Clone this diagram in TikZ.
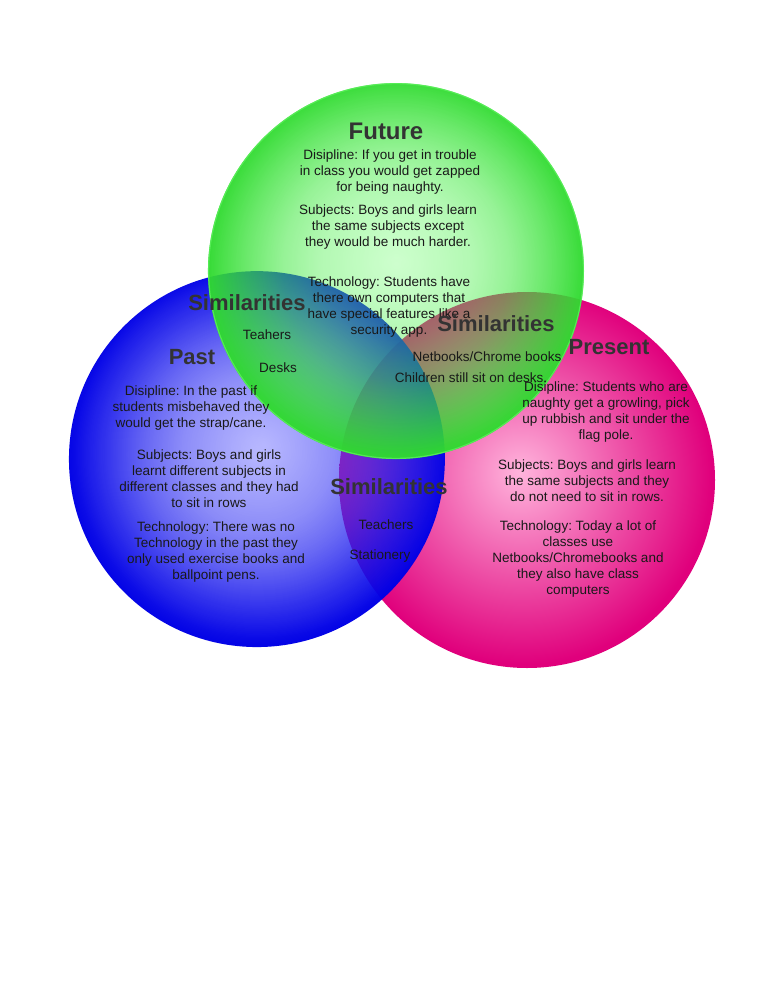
\documentclass[tikz,border=0pt]{standalone}
\usepackage{fontspec}
\setmainfont{Liberation Sans}
\usetikzlibrary{fadings}
\frenchspacing
\definecolor{gIn}{HTML}{5CFF5C}
\definecolor{gOut}{HTML}{30DA30}
\definecolor{gRim}{HTML}{5CF05C}
\definecolor{bIn}{HTML}{6464FF}
\definecolor{bOut}{HTML}{0000E6}
\definecolor{pIn}{HTML}{FFB4DC}
\definecolor{pOut}{HTML}{E0007C}
\definecolor{titlegray}{HTML}{333333}
\pgfdeclareradialshading{greenball}{\pgfpoint{0bp}{2bp}}{color(0bp)=(gIn); color(25bp)=(gOut); color(50bp)=(gOut)}
\pgfdeclareradialshading{blueball}{\pgfpoint{1bp}{2bp}}{color(0bp)=(bIn); color(25bp)=(bOut); color(50bp)=(bOut)}
\pgfdeclareradialshading{pinkball}{\pgfpoint{-1bp}{1bp}}{color(0bp)=(pIn); color(25bp)=(pOut); color(50bp)=(pOut)}
\pgfdeclareradialshading{gfadeshade}{\pgfpoint{0bp}{1bp}}{color(0bp)=(black!70); color(10bp)=(black!58); color(15bp)=(black!45); color(20bp)=(black!25); color(25bp)=(black!3); color(50bp)=(black!3)}
\pgfdeclareradialshading{bfadeshade}{\pgfpoint{0bp}{1bp}}{color(0bp)=(black!55); color(10bp)=(black!42); color(15bp)=(black!30); color(20bp)=(black!15); color(25bp)=(black!2); color(50bp)=(black!2)}
\pgfdeclarefading{greenfade}{\pgfuseshading{gfadeshade}}
\pgfdeclarefading{bluefade}{\pgfuseshading{bfadeshade}}
\tikzset{
  ttl/.style={font=\fontsize{22}{26}\selectfont\bfseries, text=titlegray, inner sep=0pt},
  body/.style={font=\fontsize{13.5}{16}\selectfont, align=center, text=black!90, inner sep=0pt},
}
\begin{document}
\begin{tikzpicture}[x=1pt,y=-1pt]
\useasboundingbox (0,0) rectangle (765,990);
\fill[white] (0,0) rectangle (765,990);
% circles
\shade[shading=pinkball] (527,480) circle (188);
\shade[shading=blueball, path fading=bluefade] (257,459) circle (188);
\shade[shading=greenball, path fading=greenfade] (396,271) circle (188);
\draw[gRim, line width=1.2pt, opacity=0.8] (396,271) circle (187.4);
% Future
\node[ttl, font=\fontsize{24}{28}\selectfont\bfseries] (future) at (386,131) {Future};
\node[body] (fdisc) at (390,172) {Disipline: If you get in trouble\\in class you would get zapped\\for being naughty.};
\node[body] (fsubj) at (388,227) {Subjects: Boys and girls learn\\the same subjects except\\they would be much harder.};
\node[body] (ftech) at (389,307) {Technology: Students have\\there own computers that\\have special features like a\\security app.};
% Past
\node[ttl] (past) at (192,357) {Past};
\node[body] (pdisc) at (191,408) {Disipline: In the past if\\students misbehaved they\\would get the strap/cane.};
\node[body] (psubj) at (209,479) {Subjects: Boys and girls\\learnt different subjects in\\different classes and they had\\to sit in rows};
\node[body] (ptech) at (216,552) {Technology: There was no\\Technology in the past they\\only used exercise books and\\ballpoint pens.};
% Present
\node[ttl] (present) at (609,347) {Present};
\node[body] (rdisc) at (606,412) {Disipline: Students who are\\naughty get a growling, pick\\up rubbish and sit under the\\flag pole.};
\node[body] (rsubj) at (587,481) {Subjects: Boys and girls learn\\the same subjects and they\\do not need to sit in rows.};
\node[body] (rtech) at (578,559.5) {Technology: Today a lot of\\classes use\\Netbooks/Chromebooks and\\they also have class\\computers};
% Similarities: future/past
\node[ttl] (sim1) at (247,303) {Similarities};
\node[body] (s1a) at (267,334.5) {Teahers};
\node[body] (s1b) at (278,367.5) {Desks};
% Similarities: future/present
\node[ttl] (sim2) at (496,324) {Similarities};
\node[body] (s2a) at (487,356.5) {Netbooks/Chrome books};
\node[body] (s2b) at (471,377.5) {Children still sit on desks.};
% Similarities: past/present
\node[ttl] (sim3) at (389,487) {Similarities};
\node[body] (s3a) at (386,524.5) {Teachers};
\node[body] (s3b) at (380,556.5) {Stationery};
\end{tikzpicture}
\end{document}
